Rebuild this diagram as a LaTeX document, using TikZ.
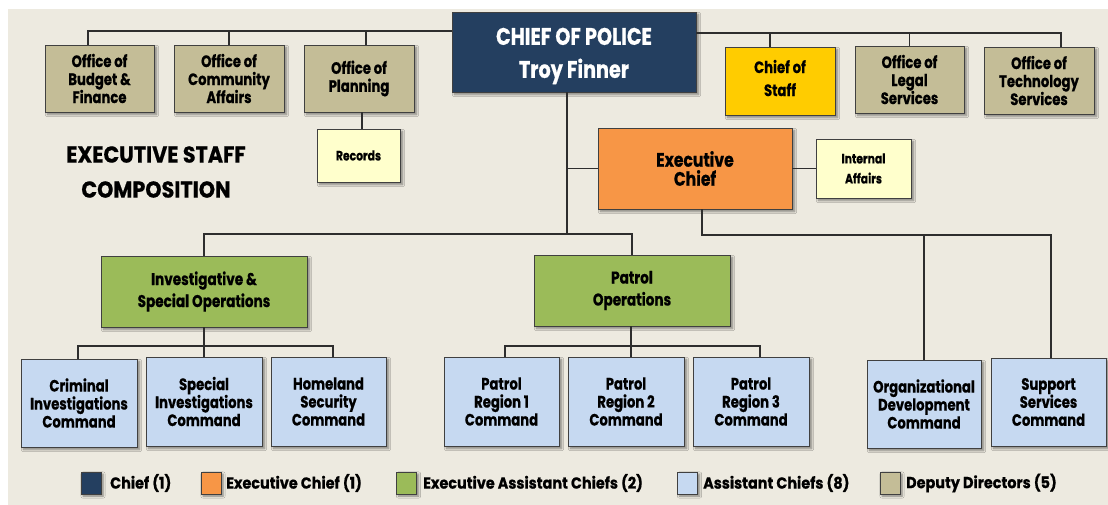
\documentclass[tikz,border=0pt]{standalone}
\usepackage{fontspec}
\setmainfont{Poppins}[FakeStretch=0.8, BoldFeatures={FakeBold=0.6}]
\newfontfamily\widefont{Poppins}[FakeStretch=0.9, BoldFeatures={FakeBold=0.6}]
\usetikzlibrary{shadows.blur}
\definecolor{bg}{HTML}{EDEAE0}
\definecolor{navy}{HTML}{243F60}
\definecolor{orng}{HTML}{F79646}
\definecolor{grn}{HTML}{9BBB59}
\definecolor{ltblue}{HTML}{C6D9F1}
\definecolor{tan}{HTML}{C4BD97}
\definecolor{gold}{HTML}{FFCC00}
\definecolor{ltyel}{HTML}{FFFFCC}
\definecolor{boxline}{HTML}{404040}
\definecolor{lineclr}{HTML}{2E2E2E}
\tikzset{
  box/.style={draw=boxline, line width=0.7pt, align=center, inner sep=0pt,
    blur shadow={shadow xshift=2.5pt, shadow yshift=-2.5pt, shadow blur steps=6, shadow opacity=45}},
  ftxt/.style={font=\bfseries\fontsize{16.5}{18}\selectfont},
  stxt/.style={font=\bfseries\fontsize{13.5}{20}\selectfont},
  gtxt/.style={font=\bfseries\fontsize{17}{22}\selectfont},
  conn/.style={draw=lineclr, line width=1.3pt},
  swatch/.style={draw=boxline, line width=0.7pt, minimum width=20pt, minimum height=22pt, inner sep=0pt,
    blur shadow={shadow xshift=2pt, shadow yshift=-2pt, shadow blur steps=5, shadow opacity=45}},
  legtxt/.style={anchor=west, inner sep=0pt, font=\widefont\bfseries\fontsize{16}{18}\selectfont},
}
\begin{document}
\begin{tikzpicture}[x=1pt,y=-1pt]
\useasboundingbox (0,0) rectangle (1108,504);
\fill[white] (-10,-10) rectangle (1120,520);
\fill[bg] (8,9) rectangle (1120,520);

% nodes
\node[box, fill=navy, minimum width=244pt, minimum height=80pt] (chief) at (574,52) {};
\node[align=center, inner sep=0pt, text=white, font=\bfseries\fontsize{24}{33}\selectfont]
  (chieftxt) at ([yshift=-4pt]chief.center) {CHIEF OF POLICE\\Troy Finner};
\node[box, ftxt, fill=tan, minimum width=109pt, minimum height=67pt] (bud) at (99.5,78.5) {Office of\\Budget \&\\Finance};
\node[box, ftxt, fill=tan, minimum width=110pt, minimum height=67pt] (com) at (229,78.5) {Office of\\Community\\Affairs};
\node[box, ftxt, fill=tan, minimum width=110pt, minimum height=67pt] (pla) at (359,78.5) {Office of\\Planning};
\node[box, stxt, fill=ltyel, minimum width=83pt, minimum height=53pt] (rec) at (358.5,155.5) {Records};
\node[box, fill=gold, minimum width=110pt, minimum height=68pt] (cos) at (780,81) {};
\node[align=center, inner sep=0pt, font=\bfseries\fontsize{16.5}{23}\selectfont]
  (costxt) at ([yshift=3pt]cos.center) {Chief of\\Staff};
\node[box, ftxt, fill=tan, minimum width=109pt, minimum height=67pt] (leg) at (909.5,79.5) {Office of\\Legal\\Services};
\node[box, ftxt, fill=tan, minimum width=110pt, minimum height=67pt] (tec) at (1039,80.5) {Office of\\Technology\\Services};
\node[box, fill=orng, minimum width=194pt, minimum height=81pt,
  font=\bfseries\fontsize{19.5}{19}\selectfont] (exe) at (695,168.5) {Executive\\Chief};
\node[box, stxt, fill=ltyel, minimum width=95pt, minimum height=59pt] (ia) at (863.5,168.5) {Internal\\Affairs};
\node[box, gtxt, fill=grn, minimum width=206pt, minimum height=71pt] (inv) at (204,291.5) {Investigative \&\\Special Operations};
\node[box, gtxt, fill=grn, minimum width=196pt, minimum height=71pt] (pat) at (632,290.5) {Patrol\\Operations};
\node[box, ftxt, fill=ltblue, minimum width=116pt, minimum height=88pt] (cri) at (79,403) {Criminal\\Investigations\\Command};
\node[box, ftxt, fill=ltblue, minimum width=116pt, minimum height=89pt] (spe) at (204,401.5) {Special\\Investigations\\Command};
\node[box, ftxt, fill=ltblue, minimum width=115pt, minimum height=89pt] (hom) at (328.5,401.5) {Homeland\\Security\\Command};
\node[box, ftxt, fill=ltblue, minimum width=115pt, minimum height=89pt] (pr1) at (501.5,401.5) {Patrol\\Region 1\\Command};
\node[box, ftxt, fill=ltblue, minimum width=116pt, minimum height=89pt] (pr2) at (626,401.5) {Patrol\\Region 2\\Command};
\node[box, ftxt, fill=ltblue, minimum width=116pt, minimum height=89pt] (pr3) at (751,401.5) {Patrol\\Region 3\\Command};
\node[box, ftxt, fill=ltblue, minimum width=114pt, minimum height=88pt] (org) at (924,404) {Organizational\\Development\\Command};
\node[box, ftxt, fill=ltblue, minimum width=115pt, minimum height=88pt] (sup) at (1048.5,402) {Support\\Services\\Command};

\node[align=center, inner sep=0pt, font=\widefont\bfseries\fontsize{23}{35}\selectfont] (title) at (156,172) {EXECUTIVE STAFF\\COMPOSITION};

% connectors
\draw[conn] (chief.west |- 0,31) -- ([xshift=-11.5pt]bud.north |- 0,31) -- ([xshift=-11.5pt]bud.north);
\draw[conn] (com.north) -- (com.north |- 0,31);
\draw[conn] ([xshift=7pt]pla.north) -- ([xshift=7pt]pla.north |- 0,31);
\draw[conn] ([xshift=3pt]pla.south) -- ([xshift=3pt]pla.south |- rec.north);
\draw[conn] (chief.east |- 0,33) -- ([xshift=22pt]tec.north |- 0,33) -- ([xshift=22pt]tec.north);
\draw[conn] ([xshift=-10pt]cos.north) -- ([xshift=-10pt]cos.north |- 0,33);
\draw[conn] (leg.north) -- (leg.north |- 0,33);
\draw[conn] ([xshift=-7pt]chief.south) -- ([xshift=-7pt]chief.south |- 0,234);
\draw[conn] ([xshift=-7pt]chief.south |- exe.west) -- (exe.west);
\draw[conn] (inv.north) -- (inv.north |- 0,234) -- (pat.north |- 0,234) -- (pat.north);
\draw[conn] (exe.east) -- (ia.west);
\draw[conn] ([xshift=7pt]exe.south) -- ([xshift=7pt]exe.south |- 0,235) -- ([xshift=2.5pt]sup.north |- 0,235) -- ([xshift=2.5pt]sup.north);
\draw[conn] (org.north) -- (org.north |- 0,235);
\draw[conn] (inv.south) -- (inv.south |- 0,346);
\draw[conn] ([xshift=-1pt]cri.north) -- ([xshift=-1pt]cri.north |- 0,346) -- ([xshift=4.5pt]hom.north |- 0,346) -- ([xshift=4.5pt]hom.north);
\draw[conn] (spe.north) -- (spe.north |- 0,346);
\draw[conn] ([xshift=-1pt]pat.south) -- ([xshift=-1pt]pat.south |- 0,346);
\draw[conn] ([xshift=3.5pt]pr1.north) -- ([xshift=3.5pt]pr1.north |- 0,346) -- ([xshift=9pt]pr3.north |- 0,346) -- ([xshift=9pt]pr3.north);
\draw[conn] ([xshift=5pt]pr2.north) -- ([xshift=5pt]pr2.north |- 0,346);

% legend
\node[swatch, fill=navy] (s1) at (91,483) {};
\node[legtxt] (l1) at (110,483) {Chief (1)};
\node[swatch, fill=orng] (s2) at (211,483) {};
\node[legtxt] (l2) at (226,483) {Executive Chief (1)};
\node[swatch, fill=grn] (s3) at (406.5,483) {};
\node[legtxt] (l3) at (423,483) {Executive Assistant Chiefs (2)};
\node[swatch, fill=ltblue] (s4) at (687.5,483) {};
\node[legtxt] (l4) at (703,483) {Assistant Chiefs (8)};
\node[swatch, fill=tan] (s5) at (890,483) {};
\node[legtxt] (l5) at (906,483) {Deputy Directors (5)};
\end{tikzpicture}
\end{document}
